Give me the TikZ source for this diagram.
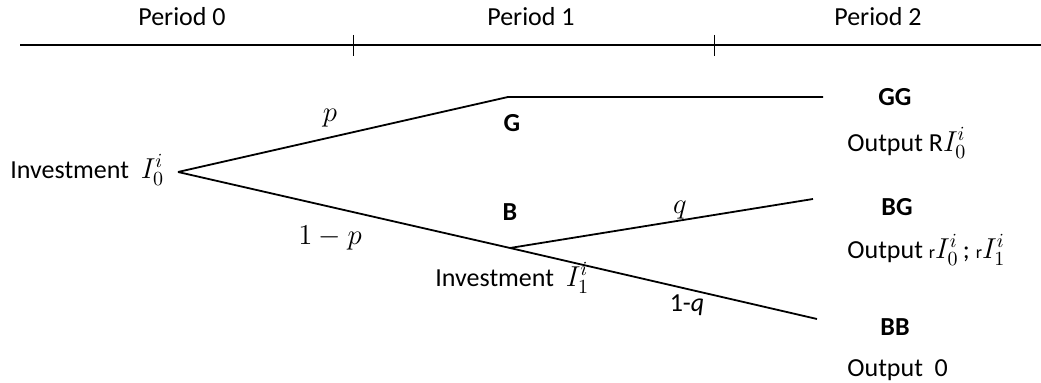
\documentclass[tikz,border=0pt]{standalone}
\usepackage{amsmath}
\usepackage{fontspec}
\setmainfont{Carlito}
\usepackage{tikz}
\usetikzlibrary{positioning}
\newcommand{\mth}[1]{{\fontsize{14.4}{16}\selectfont$#1$}}
\newcommand{\smr}{{\fontsize{9}{10}\selectfont r}}

\begin{document}
\begin{tikzpicture}[x=0.5pt,y=-0.5pt,
    every node/.style={font=\fontsize{13}{15}\selectfont,inner sep=0.5pt},
    branch/.style={line width=0.9pt},
    state/.style={font=\fontsize{13}{15}\selectfont\bfseries}]
    \useasboundingbox (0,0) rectangle (1041,383);
    % time line
    \node (per0) at (182,17) {Period 0};
    \node (per1) at (531,17) {Period 1};
    \node (per2) at (878,17) {Period 2};
    \coordinate (tl) at (20,45);
    \coordinate (tr) at (1041,45);
    \draw[line width=0.8pt] (tl)--(tr);
    \draw[line width=0.4pt] (353,35)--(353,56);
    \draw[line width=0.4pt] (714,35)--(714,56);
    % tree
    \coordinate (o) at (178,172);
    \coordinate (g) at (508,97);
    \coordinate (gg) at (823,97);
    \coordinate (b) at (510,248);
    \coordinate (bg) at (813,199);
    \coordinate (bb) at (817,319);
    \draw[branch] (o)--(g)--(gg);
    \draw[branch] (o)--(b)--(bb);
    \draw[branch] (b)--(bg);
    \node[anchor=west] (inv0) at (9,170) {Investment\ \ \mth{I_0^i}};
    \node (lp) at (330,118) {\mth{p}};
    \node (lnp) at (330,238) {\mth{1-p}};
    \node (lq) at (680,210) {\mth{q}};
    \node (lnq) at (687,305) {1-\textit{q}};
    \node[state] (sg) at (512,123) {G};
    \node[state] (sb) at (510,212) {B};
    \node[anchor=west] (inv1) at (434,278) {Investment\ \ \mth{I_1^i}};
    % outcomes
    \node[state] (sgg) at (895,97) {GG};
    \node[anchor=west] (ogg) at (846,143) {Output R\mth{I_0^i}};
    \node[state] (sbg) at (897,207) {BG};
    \node[anchor=west] (obg) at (846,250) {Output\ \smr\mth{I_0^i}\,; \smr\mth{I_1^i}};
    \node[state] (sbb) at (895,327) {BB};
    \node[anchor=west] (obb) at (846,370) {Output\ \ 0};
  \end{tikzpicture}
\end{document}
